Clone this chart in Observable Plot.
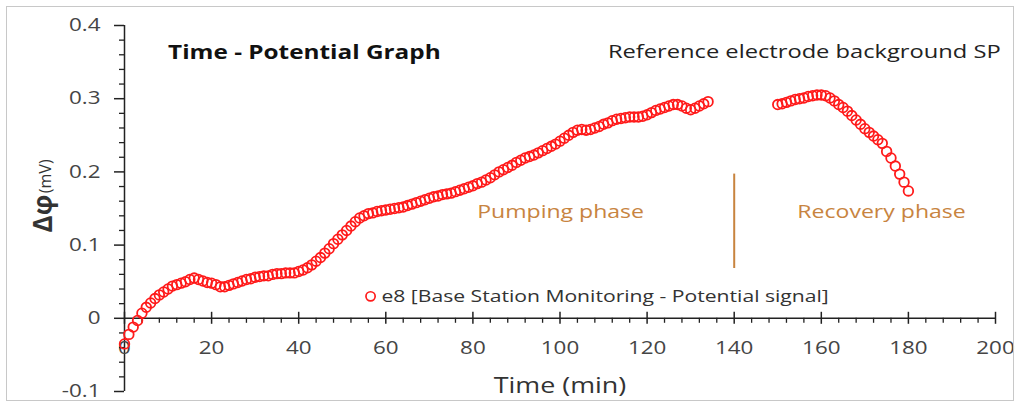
<!DOCTYPE html>
<html><head><meta charset="utf-8">
<script src="https://cdn.jsdelivr.net/npm/d3@7"></script>
<script src="https://cdn.jsdelivr.net/npm/@observablehq/plot@0.6"></script>
<style>
body{margin:0;background:#fff;}
#wrap{position:relative;width:1019px;height:403px;overflow:hidden;}
#border{position:absolute;left:6px;top:6px;width:1006px;height:393px;border:1px solid #c8c8c8;pointer-events:none;}
</style></head><body><div id="wrap"><div id="chart"></div><div id="border"></div></div>
<script>
// Pumping phase, one reading per minute from t = 0 min
const pumpStart = 0;
const pumpValues = [
 -0.035,-0.022,-0.012,-0.003,0.007,0.015,0.021,0.027,0.032,0.036,
 0.040,0.044,0.046,0.048,0.050,0.053,0.055,0.053,0.051,0.049,
 0.048,0.046,0.043,0.043,0.045,0.047,0.049,0.051,0.053,0.054,
 0.056,0.057,0.058,0.058,0.060,0.061,0.061,0.062,0.062,0.062,
 0.064,0.066,0.069,0.073,0.078,0.083,0.089,0.095,0.102,0.108,
 0.114,0.120,0.126,0.132,0.137,0.140,0.143,0.144,0.146,0.147,
 0.148,0.149,0.150,0.151,0.152,0.154,0.156,0.158,0.160,0.162,
 0.164,0.166,0.167,0.169,0.170,0.171,0.173,0.175,0.177,0.179,
 0.181,0.184,0.186,0.189,0.192,0.196,0.200,0.203,0.206,0.209,
 0.213,0.216,0.219,0.221,0.223,0.226,0.229,0.232,0.235,0.238,
 0.242,0.246,0.250,0.254,0.257,0.258,0.257,0.258,0.260,0.262,
 0.265,0.267,0.270,0.272,0.273,0.274,0.275,0.275,0.275,0.276,
 0.278,0.281,0.284,0.286,0.288,0.290,0.292,0.292,0.290,0.287,
 0.285,0.287,0.290,0.293,0.296
];
// Recovery phase, one reading per minute from t = 150 min
const recoveryStart = 150;
const recoveryValues = [
 0.292,0.293,0.295,0.297,0.299,0.300,0.301,0.303,0.304,0.305,
 0.305,0.304,0.301,0.297,0.292,0.288,0.283,0.277,0.271,0.265,
 0.259,0.254,0.249,0.244,0.239,0.228,0.219,0.208,0.197,0.186,
 0.174
];
const xMajor = [0,20,40,60,80,100,120,140,160,180,200];
const xMinor = [4,8,12,16,24,28,32,36,44,48,52,56,64,68,72,76,84,88,92,96,104,108,112,116,124,128,132,136,144,148,152,156,164,168,172,176,184,188,192,196];
const yMajor = [-0.1,0,0.1,0.2,0.3,0.4];
const yMajorLabels = ["-0.1","0","0.1","0.2","0.3","0.4"];
const yMinor = [-0.08,-0.06,-0.04,-0.02,0.02,0.04,0.06,0.08,0.12,0.14,0.16,0.18,0.22,0.24,0.26,0.28,0.32,0.34,0.36,0.38];
const title = "Time - Potential Graph";
const subtitle = "Reference electrode background SP";
const seriesName = "e8 [Base Station Monitoring - Potential signal]";
const phaseLabels = ["Pumping phase","Recovery phase"];
const xTitle = "Time (min)";

const data = [
  ...pumpValues.map((v,i)=>({t: pumpStart + i, v})),
  ...recoveryValues.map((v,i)=>({t: recoveryStart + i, v}))
];

const RED = "#ff1a1a";
const ORANGE = "#c8843f";
const INK = "#454545";
const FONT = "'Open Sans', sans-serif";

const chart = Plot.plot({
  width: 1019, height: 403,
  marginLeft: 124, marginRight: 24, marginTop: 25, marginBottom: 12,
  x: {domain: [0,200], axis: null},
  y: {domain: [-0.1,0.4], axis: null},
  style: {fontFamily: FONT, background: "white"},
  marks: [
    // axes lines
    Plot.ruleY([0], {x1: 0, x2: 200, stroke: "#222", strokeWidth: 1.5}),
    Plot.ruleX([0], {y1: -0.1, y2: 0.4, stroke: "#222", strokeWidth: 1.5}),
    // x ticks
    Plot.ruleX(xMajor, {x: d=>d, y1: 0, y2: 0, insetTop: -6, insetBottom: -6, stroke: "#222", strokeWidth: 1.5}),
    Plot.ruleX(xMinor, {x: d=>d, y1: 0, y2: 0, insetTop: 0, insetBottom: -5, stroke: "#222", strokeWidth: 1.3}),
    Plot.text(xMajor, {x: d=>d, y: 0, dy: 30, text: d=>String(d), fontSize: 17.5, fill: INK}),
    // y ticks
    Plot.ruleY(yMajor, {y: d=>d, x1: 0, x2: 0, insetLeft: -10, stroke: "#222", strokeWidth: 1.5}),
    Plot.ruleY(yMinor, {y: d=>d, x1: 0, x2: 0, insetLeft: -5, stroke: "#222", strokeWidth: 1.3}),
    Plot.text(yMajor, {x: 0, y: d=>d, dx: -24, text: (d,i)=>yMajorLabels[i], textAnchor: "end", fontSize: 17.5, fill: INK}),
    // axis titles
    Plot.text([xTitle], {x: 100, y: -0.1, dy: -5, text: d=>d, fontSize: 21, fill: "#333"}),
    Plot.text(["Δφ"], {x: 0, y: 0.143, dx: -81, text: d=>d, rotate: -90, fontSize: 26, fontWeight: "bold", fill: "#333"}),
    Plot.text(["(mV)"], {x: 0, y: 0.194, dx: -79, text: d=>d, rotate: -90, fontSize: 16, fill: "#333"}),
    // annotations
    Plot.text([title], {x: 10, y: 0.363, text: d=>d, textAnchor: "start", fontSize: 19, fontWeight: "bold", fill: "#111"}),
    Plot.text([subtitle], {x: 111, y: 0.364, text: d=>d, textAnchor: "start", fontSize: 18.5, fill: "#222"}),
    Plot.text([phaseLabels[0]], {x: 81, y: 0.145, text: d=>d, textAnchor: "start", fontSize: 18, fill: ORANGE}),
    Plot.text([phaseLabels[1]], {x: 154.5, y: 0.145, text: d=>d, textAnchor: "start", fontSize: 18, fill: ORANGE}),
    Plot.ruleX([140], {y1: 0.068, y2: 0.197, stroke: ORANGE, strokeWidth: 2}),
    // legend
    Plot.dot([0], {x: 56.5, y: 0.030, r: 4.6, stroke: RED, strokeWidth: 1.7, fill: "none"}),
    Plot.text([seriesName], {x: 59, y: 0.030, text: d=>d, textAnchor: "start", fontSize: 16.5, fill: "#333"}),
    // data
    Plot.dot(data, {x: "t", y: "v", r: 4.8, stroke: RED, strokeWidth: 1.8, fill: "none"})
  ]
});
document.getElementById("chart").append(chart);
// The reference's type is set noticeably wider than its height suggests: widen horizontal labels.
const STRETCH = 1.28;
chart.querySelectorAll("text").forEach(t => {
  const tr = t.getAttribute("transform") || "";
  if (tr.includes("rotate")) return;
  const w = t.getComputedTextLength();
  if (w > 0) {
    t.setAttribute("textLength", (w * STRETCH).toFixed(1));
    t.setAttribute("lengthAdjust", "spacingAndGlyphs");
  }
});
</script></body></html>
